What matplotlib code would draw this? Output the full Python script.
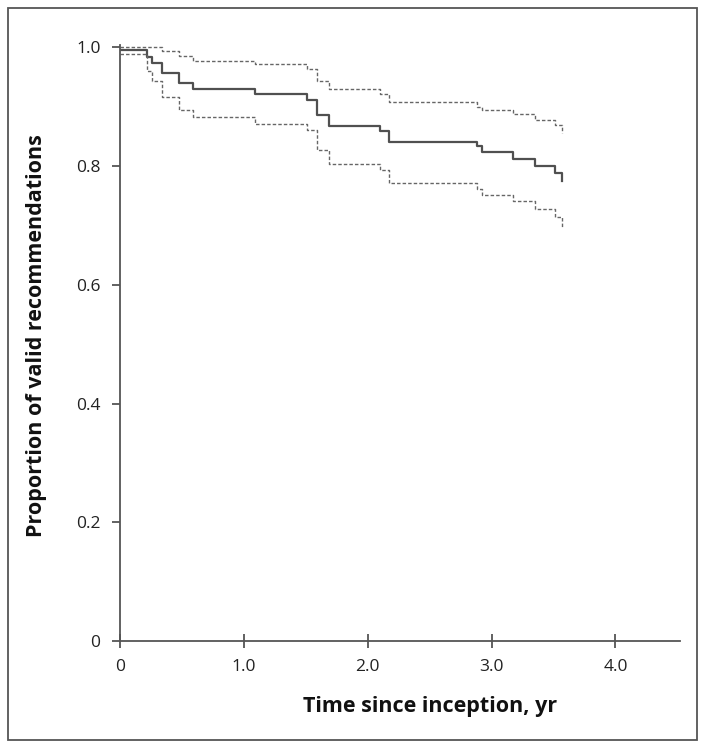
import numpy as np
import matplotlib.pyplot as plt
from matplotlib.patches import Rectangle

# Step times (years) where the curves drop
times = [0, 0.22, 0.255, 0.34, 0.48, 0.59, 1.09, 1.51, 1.59, 1.69,
         2.10, 2.17, 2.88, 2.92, 3.17, 3.35, 3.51, 3.57]

# Kaplan-Meier estimate and confidence limits
survival = [0.996, 0.984, 0.974, 0.957, 0.940, 0.929, 0.921, 0.911, 0.886, 0.867,
            0.859, 0.841, 0.833, 0.824, 0.812, 0.800, 0.788, 0.775]
upper_ci = [1.000, 1.000, 1.000, 0.994, 0.985, 0.977, 0.971, 0.964, 0.944, 0.930,
            0.922, 0.908, 0.900, 0.894, 0.887, 0.877, 0.869, 0.855]
lower_ci = [0.988, 0.960, 0.944, 0.916, 0.894, 0.882, 0.870, 0.860, 0.827, 0.804,
            0.794, 0.772, 0.762, 0.751, 0.741, 0.728, 0.714, 0.698]

x_ticks = [0, 1, 2, 3, 4]
x_tick_labels = ['0', '1.0', '2.0', '3.0', '4.0']
y_ticks = [0, 0.2, 0.4, 0.6, 0.8, 1.0]
y_tick_labels = ['0', '0.2', '0.4', '0.6', '0.8', '1.0']

plt.rcParams['font.family'] = ['Open Sans', 'DejaVu Sans']

fig = plt.figure(figsize=(7.06, 7.48), dpi=100)
ax = fig.add_axes([0.170, 0.143, 0.793, 0.797])

# Outer frame around the whole figure
fig.patches.append(Rectangle((8 / 706, 8 / 748), 689 / 706, 732 / 748,
                             transform=fig.transFigure, fill=False,
                             edgecolor='#555555', linewidth=1.3))

ax.plot(times, survival, drawstyle='steps-post', color='#505050', linewidth=1.6)
ax.plot(times, upper_ci, drawstyle='steps-post', color='#666666', linewidth=1.0,
        linestyle=(0, (2.5, 1.5)))
ax.plot(times, lower_ci, drawstyle='steps-post', color='#666666', linewidth=1.0,
        linestyle=(0, (2.5, 1.5)))

ax.set_xlim(0, 4.52)
ax.set_ylim(0, 1.004)

for side in ['top', 'right']:
    ax.spines[side].set_visible(False)
for side in ['left', 'bottom']:
    ax.spines[side].set_color('#555555')
    ax.spines[side].set_linewidth(1.3)

ax.set_xticks(x_ticks)
ax.set_xticklabels(x_tick_labels)
ax.set_yticks(y_ticks)
ax.set_yticklabels(y_tick_labels)
ax.tick_params(axis='x', direction='inout', length=10, width=1.3, color='#555555',
               labelsize=12.5, pad=8, labelcolor='#222222')
ax.tick_params(axis='y', direction='out', length=6, width=1.3, color='#555555',
               labelsize=12.5, pad=8, labelcolor='#222222')

ax.set_xlabel('Time since inception, yr', fontsize=15.5, fontweight='bold', color='#111111')
ax.set_ylabel('Proportion of valid recommendations', fontsize=15.5, fontweight='bold',
              color='#111111')
ax.xaxis.set_label_coords(0.554, -0.092)
ax.yaxis.set_label_coords(-0.13, 0.513)

fig.savefig('out.png', dpi=100)
